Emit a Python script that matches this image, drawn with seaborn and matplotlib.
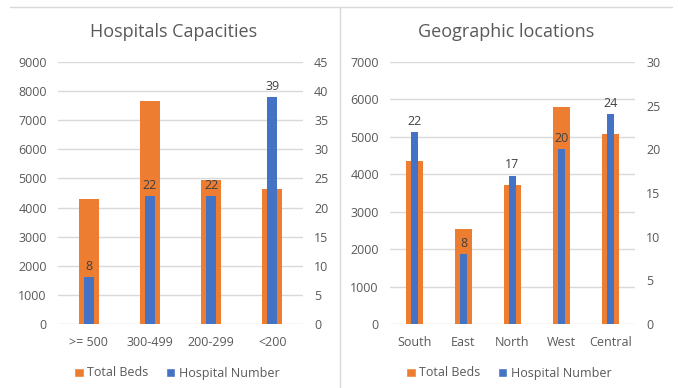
import matplotlib
matplotlib.use("Agg")
import matplotlib.pyplot as plt
import seaborn as sns
import pandas as pd
from matplotlib.lines import Line2D
from matplotlib.patches import Patch

# ---- data ----
cap_categories = [">= 500", "300-499", "200-299", "<200"]
cap_beds = [4300, 7650, 4930, 4630]
cap_hospitals = [8, 22, 22, 39]

geo_categories = ["South", "East", "North", "West", "Central"]
geo_beds = [4350, 2550, 3720, 5800, 5070]
geo_hospitals = [22, 8, 17, 20, 24]

ORANGE = "#ED7D31"
BLUE = "#4472C4"
TEXT = "#595959"
GRID = "#D9D9D9"
FONT = 9

sns.set_theme(style="white")
plt.rcParams['font.family'] = ['Open Sans', 'DejaVu Sans']

W, H = 678, 388
fig = plt.figure(figsize=(6.78, 3.88), dpi=100)


def px_rect(x0, x1, ytop, ybot):
    return [x0 / W, (H - ybot) / H, (x1 - x0) / W, (ybot - ytop) / H]


def panel(rect, title, title_x, cats, beds, hosp, lmax, lstep, rmax, rstep, legend_x):
    ax = fig.add_axes(rect)
    ax2 = ax.twinx()
    df = pd.DataFrame({"cat": cats, "beds": beds, "hosp": hosp})
    sns.barplot(data=df, x="cat", y="beds", color=ORANGE, width=0.33,
                saturation=1, ax=ax, errorbar=None, linewidth=0)
    sns.barplot(data=df, x="cat", y="hosp", color=BLUE, width=0.16,
                saturation=1, ax=ax2, errorbar=None, linewidth=0)
    ax.set_ylim(0, lmax)
    ax2.set_ylim(0, rmax)
    ax.set_yticks(range(0, lmax + 1, lstep))
    ax2.set_yticks(range(0, rmax + 1, rstep))
    ax.set_xlim(-0.5, len(cats) - 0.5)
    for a in (ax, ax2):
        for s in a.spines.values():
            s.set_visible(False)
        a.set_xlabel("")
        a.set_ylabel("")
        a.tick_params(length=0, labelsize=FONT, labelcolor=TEXT)
    ax.tick_params(axis="y", pad=8)
    ax2.tick_params(axis="y", pad=8)
    ax.tick_params(axis="x", pad=9)
    ax.set_axisbelow(True)
    ax.yaxis.grid(True, color=GRID, linewidth=1)
    ax.xaxis.grid(False)
    ax2.grid(False)
    ax2.bar_label(ax2.containers[0], fontsize=FONT, color="#404040", padding=3)
    fig.text(title_x / W, (H - 32) / H, title, ha="center", va="center",
             fontsize=13, color=TEXT)
    handles = [Patch(facecolor=ORANGE, label="Total Beds"),
               Patch(facecolor=BLUE, label="Hospital Number")]
    fig.legend(handles=handles, loc="center", bbox_to_anchor=(legend_x / W, (H - 373) / H),
               ncol=2, frameon=False, fontsize=FONT, labelcolor=TEXT,
               handlelength=0.75, handleheight=0.75, handletextpad=0.3,
               columnspacing=1.4)
    return ax, ax2


panel(px_rect(58, 303, 62, 324), "Hospitals Capacities", 174,
      cap_categories, cap_beds, cap_hospitals, 9000, 1000, 45, 5, 177)
panel(px_rect(390, 635, 62, 324), "Geographic locations", 506,
      geo_categories, geo_beds, geo_hospitals, 7000, 1000, 30, 5, 509)

# frame lines
fig.add_artist(Line2D([10 / W, 672 / W], [(H - 7) / H] * 2, color=GRID, linewidth=1))
fig.add_artist(Line2D([340 / W] * 2, [(H - 7) / H, 0], color=GRID, linewidth=1))

fig.savefig("out.png", dpi=100)
